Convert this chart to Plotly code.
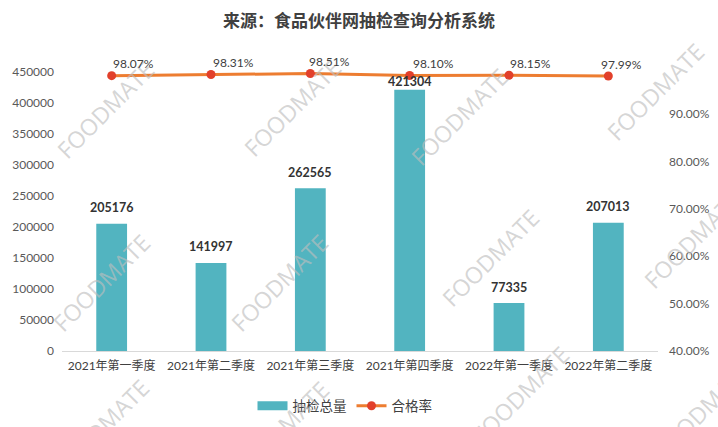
import plotly.graph_objects as go

categories = ["2021年第一季度", "2021年第二季度", "2021年第三季度",
              "2021年第四季度", "2022年第一季度", "2022年第二季度"]
total_checks = [205176, 141997, 262565, 421304, 77335, 207013]
pass_rate = [98.07, 98.31, 98.51, 98.10, 98.15, 97.99]
left_ticks = [0, 50000, 100000, 150000, 200000, 250000, 300000, 350000, 400000, 450000]
right_ticks = [40, 50, 60, 70, 80, 90]

# styling / offsets (not data)
bar_label_shift = [16, 16, 16, 8, 16, 16]
rate_label_xshift = [22, 22, 19, 24, 21, 13]

W, H = 718, 427
ML, MR, MT, MB = 62, 60, 66, 76
FONT = "Lato, Noto Sans CJK SC"
CJK = "Noto Sans CJK SC"
TXT = "#404040"
BAR = "#52b4c0"
LINE = "#ed7d31"
DOT = "#e2402b"

fig = go.Figure()
fig.add_trace(go.Bar(
    x=categories, y=total_checks, name="抽检总量",
    marker=dict(color=BAR, line=dict(width=0)), width=0.31,
    showlegend=False, yaxis="y"))
fig.add_trace(go.Scatter(
    x=categories, y=pass_rate, name="合格率", yaxis="y2",
    mode="lines+markers", line=dict(color=LINE, width=3),
    marker=dict(color=DOT, size=9), showlegend=False))
# legend entries
fig.add_trace(go.Scatter(x=[None], y=[None], name="抽检总量", mode="lines",
                         line=dict(color=BAR, width=9)))
fig.add_trace(go.Scatter(x=[None], y=[None], name="合格率", mode="lines+markers",
                         line=dict(color=LINE, width=3), marker=dict(color=DOT, size=9)))

ann = []
pw, ph = W - ML - MR, H - MT - MB
def px2paper(px, py):
    return (px - ML) / pw, (H - MB - py) / ph

wm_positions = [(105, 110), (292, 108), (459, 117), (655, 92),
                (101, 283), (279, 283), (490, 258), (692, 240),
                (100, 428), (280, 430), (520, 395), (702, 410)]
for (px, py) in wm_positions:
    xp, yp = px2paper(px, py)
    ann.append(dict(x=xp, y=yp, xref="paper", yref="paper", text="FOODMATE",
                    xanchor="center", yanchor="middle",
                    showarrow=False, textangle=-45,
                    font=dict(size=23, color="rgba(190,190,190,0.65)", family="Open Sans")))

for c, v, s in zip(categories, total_checks, bar_label_shift):
    ann.append(dict(x=c, y=v, xref="x", yref="y", text=str(v), showarrow=False,
                    yshift=s, font=dict(size=12.5, color="#333333", family=FONT, weight="bold")))
for c, v, xs in zip(categories, pass_rate, rate_label_xshift):
    ann.append(dict(x=c, y=v, xref="x", yref="y2", text=f"{v:.2f}%", showarrow=False,
                    xshift=xs, yshift=12, font=dict(size=12, color=TXT, family=FONT)))

fig.update_layout(
    width=W, height=H,
    margin=dict(l=ML, r=MR, t=MT, b=MB, autoexpand=False),
    paper_bgcolor="white", plot_bgcolor="white",
    font=dict(family=FONT, color=TXT),
    title=dict(text="<b>来源：食品伙伴网抽检查询分析系统</b>", x=0.5, xanchor="center",
               y=1 - 21 / H, yanchor="middle", font=dict(size=17, color=TXT, family=CJK)),
    xaxis=dict(type="category", showline=True, linecolor="#d9d9d9", linewidth=1,
               ticks="", showgrid=False, tickfont=dict(size=12, color=TXT, family=FONT),
               ticklabelstandoff=4, automargin=False),
    yaxis=dict(range=[0, 459700], tickvals=left_ticks, ticktext=[str(t) for t in left_ticks],
               showgrid=False, zeroline=False, ticks="", ticklabelstandoff=7, automargin=False,
               tickfont=dict(size=12, color="#595959", family=FONT)),
    yaxis2=dict(range=[40, 100.1], overlaying="y", side="right", tickvals=right_ticks,
                ticktext=[f"{t:.2f}%" for t in right_ticks], showgrid=False, zeroline=False,
                ticks="", ticklabelstandoff=10, automargin=False,
                tickfont=dict(size=12, color="#595959", family=FONT)),
    legend=dict(orientation="h", x=345 / W, xref="container", xanchor="center",
                y=(H - 406) / H, yref="container", yanchor="middle",
                font=dict(size=13.5, color=TXT, family=CJK), itemwidth=30,
                bgcolor="rgba(0,0,0,0)"),
    annotations=ann,
)

fig.write_html("out.html", post_script="document.body.style.margin='0';",
               config={"displayModeBar": False})
